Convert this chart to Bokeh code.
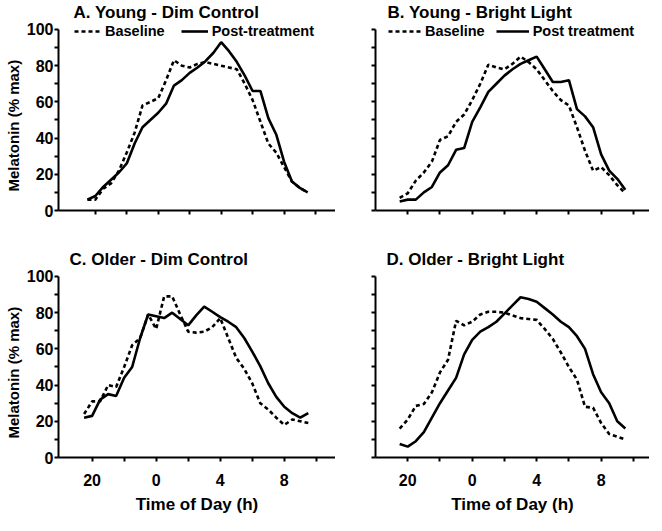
from bokeh.plotting import figure
from bokeh.models import Range1d, FixedTicker, Legend, LegendItem, Title
from bokeh.layouts import gridplot
from bokeh.embed import file_html
from bokeh.resources import INLINE

# ---- data (time in hours; 24 = midnight) ----
hours = [19.5, 20.0, 20.5, 21.0, 21.5, 22.0, 22.5, 23.0, 23.5, 24.0, 24.5, 25.0, 25.5, 26.0, 26.5,
         27.0, 27.5, 28.0, 28.5, 29.0, 29.5, 30.0, 30.5, 31.0, 31.5, 32.0, 32.5, 33.0, 33.5]

x_tick_values = [20, 24, 28, 32]
x_tick_labels = ["20", "0", "4", "8"]
x_minor_values = [22, 26, 30, 34]
y_tick_values = [0, 20, 40, 60, 80, 100]
y_minor_values = [10, 30, 50, 70, 90]

a_baseline = [6, 6, 12, 15, 22, 32, 43, 58, 60, 62, 72, 83, 80, 79, 81,
              82, 81, 80, 79, 78, 70, 61, 49, 37, 32, 24, 16, 12.5, 10]
a_post = [6, 8, 13, 17, 21, 26, 37, 46, 50, 54, 59, 69, 72, 76, 79,
          82.5, 87, 93, 88, 82, 74.5, 66, 66, 51, 42, 27, 16, 12.5, 10]

b_baseline = [7, 9.5, 16.5, 21, 27, 39, 41, 49, 53, 61, 70, 80.5, 79, 78, 81,
              85, 82, 78, 72, 66, 61, 58, 46, 33, 22, 24, 19.5, 14, 9.5]
b_post = [5, 6, 6, 10, 13, 21, 25, 33.5, 34.5, 49, 57, 65.5, 70, 74.5, 78,
          81, 83, 85, 78, 71, 71, 72, 56, 52, 46, 31, 22, 17.5, 11.5]

c_baseline = [24, 31, 31, 40, 39, 50, 62, 66, 79, 71, 89, 89, 79, 69.5, 69,
              69.5, 72, 77, 66, 55, 49, 41, 30, 26.5, 22, 18, 21, 20, 19]
c_post = [22, 23, 32, 35, 34, 44, 50, 66, 79, 78, 77, 80, 76.5, 73, 78.5,
          83.3, 80.5, 77.5, 75, 72, 66, 58.5, 50.5, 41, 33.5, 28, 24.5, 22, 24.5]

d_baseline = [16, 21, 28.5, 29.5, 36, 47, 54, 75.5, 73, 75, 79, 80.5, 80.5, 80, 78.5,
              77, 76.5, 76, 71, 65.5, 58, 50, 43, 28, 27.5, 19, 13, 11.5, 10]
d_post = [7.5, 6, 9, 14, 22, 30, 37, 44, 57, 65, 69.5, 72, 75, 79.5, 84,
          88.5, 87.5, 86, 82.5, 79, 75, 72, 67, 60, 46, 36, 30, 20, 16]

FONT = "Liberation Sans"
FRAME_H = 189


def make_panel(title, base, post, x_start, x_end, frame_w, border_left, border_bottom,
               show_y_labels, show_x_labels, title_offset, legend_labels=None,
               legend_x=0, glyph_w=27, legend_spacing=16):
    p = figure(frame_width=frame_w, frame_height=FRAME_H,
               x_range=Range1d(x_start, x_end), y_range=Range1d(0, 104.4),
               output_backend="svg", toolbar_location=None,
               min_border_left=border_left, min_border_right=0,
               min_border_top=19, min_border_bottom=border_bottom)
    p.outline_line_color = None
    p.xgrid.visible = False
    p.ygrid.visible = False
    p.background_fill_color = "white"
    p.border_fill_color = "white"

    p.title.text = title
    p.title.text_font = FONT
    p.title.text_font_size = "17px"
    p.title.text_font_style = "bold"
    p.title.text_color = "black"
    p.title.align = "left"
    p.title.offset = title_offset
    p.title.standoff = 0

    r_base = p.line(hours, base, line_color="black", line_width=2.6, line_dash="4 3")
    r_post = p.line(hours, post, line_color="black", line_width=2.6)

    for ax in (p.xaxis[0], p.yaxis[0]):
        ax.axis_line_width = 2
        ax.axis_line_color = "black"
        ax.major_tick_line_width = 2
        ax.minor_tick_line_width = 2
        ax.major_tick_line_color = "black"
        ax.minor_tick_line_color = "black"
        ax.major_tick_in = 0
        ax.major_tick_out = 4
        ax.minor_tick_in = 0
        ax.minor_tick_out = 4
        ax.major_label_text_font = FONT
        ax.major_label_text_font_size = "16px"
        ax.major_label_text_font_style = "bold"
        ax.major_label_text_color = "black"
        ax.axis_label_text_font = FONT
        ax.axis_label_text_font_style = "bold"
        ax.axis_label_text_color = "black"

    xa = p.xaxis[0]
    xa.ticker = FixedTicker(ticks=x_tick_values, minor_ticks=x_minor_values)
    if show_x_labels:
        xa.major_label_overrides = {v: s for v, s in zip(x_tick_values, x_tick_labels)}
        xa.axis_label = "Time of Day (h)"
        xa.axis_label_text_font_size = "17px"
        xa.major_label_standoff = 12
        xa.axis_label_standoff = 6
    else:
        xa.major_label_overrides = {v: "" for v in x_tick_values}

    ya = p.yaxis[0]
    ya.bounds = (0, 100)
    ya.ticker = FixedTicker(ticks=y_tick_values, minor_ticks=y_minor_values)
    if show_y_labels:
        ya.major_label_standoff = 1
        ylab = Title(text="Melatonin (% max)", align="left", offset=19,
                     text_font=FONT, text_font_size="15px", text_font_style="bold",
                     text_color="black", standoff=4)
        p.add_layout(ylab, "left")
    else:
        ya.major_label_overrides = {v: "" for v in y_tick_values}

    if legend_labels:
        legend = Legend(items=[LegendItem(label=legend_labels[0], renderers=[r_base]),
                               LegendItem(label=legend_labels[1], renderers=[r_post])],
                        orientation="horizontal", location=(legend_x, FRAME_H - 18),
                        padding=0, margin=0, spacing=legend_spacing,
                        glyph_width=glyph_w, glyph_height=16, label_height=16,
                        label_standoff=4,
                        label_text_font=FONT, label_text_font_size="14.5px",
                        label_text_font_style="bold", label_text_color="black",
                        background_fill_alpha=0, border_line_alpha=0)
        p.add_layout(legend)
    return p


pA = make_panel("A. Young - Dim Control", a_baseline, a_post, 17.66, 35.27, 277, 53, 37,
                True, False, 15, ("Baseline", "Post-treatment"), 16, 27, 16)
pB = make_panel("B. Young - Bright Light", b_baseline, b_post, 18.0, 35.0, 274, 40, 37,
                False, False, 12, ("Baseline", "Post treatment"), 13, 33, 11)
pC = make_panel("C. Older - Dim Control", c_baseline, c_post, 17.9, 35.2, 277, 53, 60,
                True, True, 11)
pD = make_panel("D. Older - Bright Light", d_baseline, d_post, 18.0, 35.0, 274, 40, 60,
                False, True, 11)

grid = gridplot([[pA, pB], [pC, pD]], toolbar_location=None)

open("out.html", "w").write(file_html(grid, INLINE))
